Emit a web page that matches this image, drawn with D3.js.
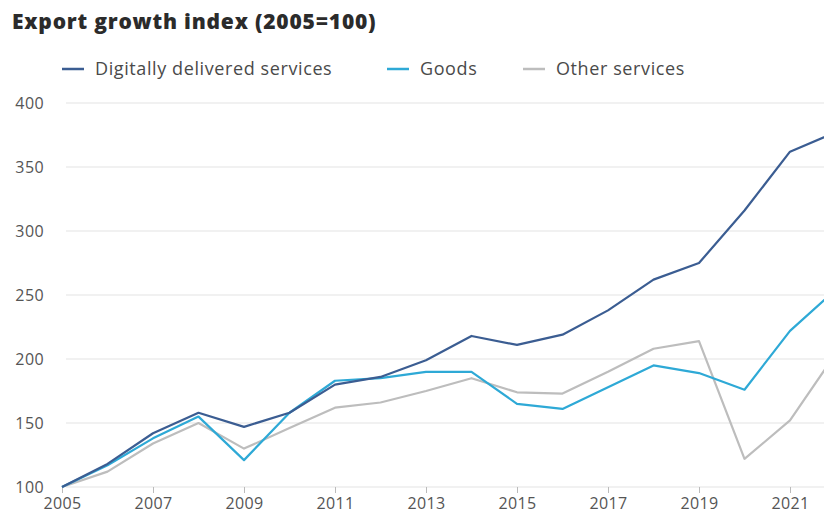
<!DOCTYPE html>
<html>
<head>
<meta charset="utf-8">
<script src="https://cdn.jsdelivr.net/npm/d3@7"></script>
<style type="text/css">
body {
	margin: 0;
	background: #fff;
}
text {
	font-family: "Open Sans", "Noto Sans", sans-serif;
}
.title {
	font-weight: 800;
	font-size: 21px;
	letter-spacing: 0.8px;
	fill: #2b2b2b;
}
.legend text {
	font-size: 18px;
	letter-spacing: 0.6px;
	fill: #4a4a4a;
}
.tick text {
	font-size: 16px;
	letter-spacing: 0.4px;
	fill: #555;
}
</style>
</head>
<body>
<div id="chart"></div>
<script type="text/javascript">
// years and the three series
var years = [2005, 2006, 2007, 2008, 2009, 2010, 2011, 2012, 2013, 2014, 2015, 2016, 2017, 2018, 2019, 2020, 2021, 2022];
var digital = [100, 118, 142, 158, 147, 158, 180, 186, 199, 218, 211, 219, 238, 262, 275, 316, 362, 377];
var goods = [100, 117, 138, 155, 121, 158, 183, 185, 190, 190, 165, 161, 178, 195, 189, 176, 222, 254];
var other = [100, 112, 134, 150, 130, 146, 162, 166, 175, 185, 174, 173, 190, 208, 214, 122, 152, 204];

var yTicks = [100, 150, 200, 250, 300, 350, 400];
var xTicks = [2005, 2007, 2009, 2011, 2013, 2015, 2017, 2019, 2021];

var series = [
	{name: "Digitally delivered services", values: digital, color: "#3b5d92"},
	{name: "Goods", values: goods, color: "#2ea9d6"},
	{name: "Other services", values: other, color: "#bdbdbd"}
];

var width = 824, height = 521;

var svg = d3.select("#chart").append("svg")
	.attr("width", width).attr("height", height);

// 2022 sits past the right edge, the reference is cut there
var x = d3.scaleLinear().domain([2005, 2022]).range([62, 835.5]);
var y = d3.scaleLinear().domain([100, 400]).range([487, 103]);

svg.append("text").attr("class", "title")
	.attr("x", 12).attr("y", 29)
	.text("Export growth index (2005=100)");

// gridlines
svg.append("g").selectAll("line").data(yTicks).enter().append("line")
	.attr("x1", 66).attr("x2", width)
	.attr("y1", function(d){ return y(d); })
	.attr("y2", function(d){ return y(d); })
	.style("stroke", "#ececec").style("stroke-width", 1.5);

// y axis labels
var yAxis = svg.append("g").attr("transform", "translate(44,0)")
	.call(d3.axisLeft(y).tickValues(yTicks).tickSize(0).tickPadding(0));
yAxis.select(".domain").remove();

// x axis
var xAxis = svg.append("g").attr("transform", "translate(0," + y(100) + ")")
	.call(d3.axisBottom(x).tickValues(xTicks).tickFormat(d3.format("d")).tickSize(6).tickPadding(5));
xAxis.select(".domain").remove();
xAxis.selectAll(".tick line").style("stroke", "#bbb");

var line = d3.line()
	.x(function(d, i){ return x(years[i]); })
	.y(function(d){ return y(d); });

svg.append("g").selectAll("path").data(series.slice().reverse()).enter().append("path")
	.attr("d", function(d){ return line(d.values); })
	.style("fill", "none")
	.style("stroke", function(d){ return d.color; })
	.style("stroke-width", 2.2)
	.style("stroke-linejoin", "round");

// legend
var legendX = [62, 387, 523];
var legend = svg.append("g").attr("class", "legend");
var items = legend.selectAll("g").data(series).enter().append("g")
	.attr("transform", function(d, i){ return "translate(" + legendX[i] + ",69)"; });
items.append("line")
	.attr("x1", 0).attr("x2", 22)
	.style("stroke", function(d){ return d.color; })
	.style("stroke-width", 2.5);
items.append("text")
	.attr("x", 33).attr("y", 6)
	.text(function(d){ return d.name; });
</script>
</body>
</html>
